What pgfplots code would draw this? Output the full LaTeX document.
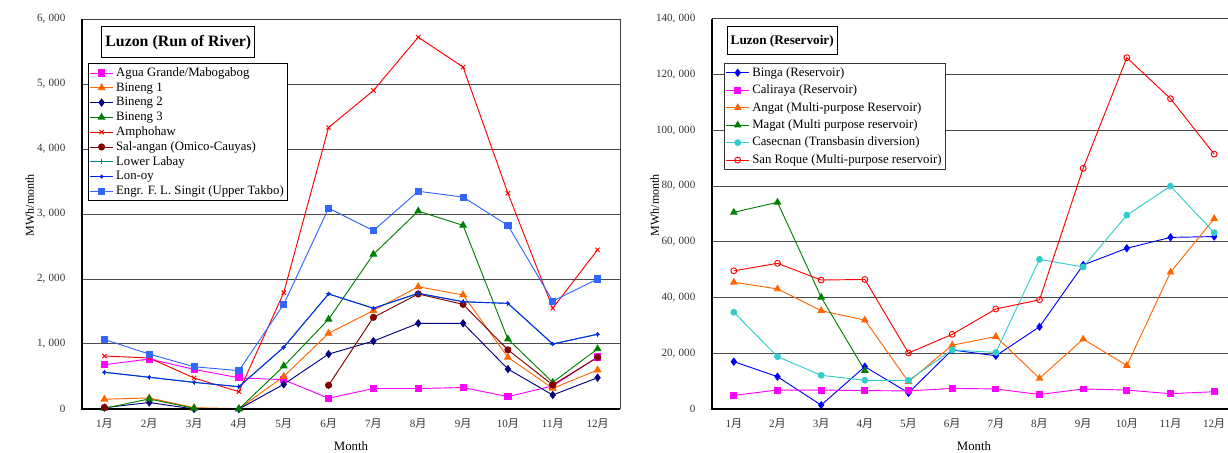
\documentclass[border=0pt]{standalone}
\usepackage{pgfplots}
\pgfplotsset{compat=1.18}
\usepackage{fontspec}
\setmainfont{Liberation Serif}
\newfontfamily\cjk{Noto Sans CJK JP}

\definecolor{cMag}{RGB}{255,0,255}
\definecolor{cOrg}{RGB}{255,102,0}
\definecolor{cNavy}{RGB}{0,0,128}
\definecolor{cGrn}{RGB}{0,128,0}
\definecolor{cRed}{RGB}{255,0,0}
\definecolor{cMaroon}{RGB}{128,0,0}
\definecolor{cTeal}{RGB}{0,128,128}
\definecolor{cLonoy}{RGB}{0,40,240}
\definecolor{cSky}{RGB}{51,102,255}
\definecolor{cBlue}{RGB}{0,0,255}
\definecolor{cTurq}{RGB}{51,204,204}

\newcommand{\mon}[1]{#1{\cjk 月}}
\newcommand{\thou}[2]{#1,\hspace{0.3em}#2}

\pgfplotsset{
  monthly/.style={
    scale only axis,
    height=292.5pt,
    xmin=0.5, xmax=12.5,
    xtick={1,...,12},
    xticklabels={\mon{1},\mon{2},\mon{3},\mon{4},\mon{5},\mon{6},\mon{7},\mon{8},\mon{9},\mon{10},\mon{11},\mon{12}},
    minor xtick={1.5,2.5,...,11.5},
    xtick pos=bottom, ytick pos=left,
    xtick align=inside,
    x tick style={draw=none},
    minor x tick style={black, line width=0.75pt},
    minor tick length=3.5pt,
    y tick style={draw=none},
    scaled y ticks=false,
    ymajorgrids,
    major grid style={black!70, line width=0.75pt},
    axis line style={black!75, line width=0.75pt},
    tick label style={font=\fontsize{8.3}{9}\selectfont, text=black!80},
    xticklabel style={yshift=-4pt},
    yticklabel style={xshift=-9pt},
    xlabel={Month},
    xlabel style={at={(axis description cs:0.5,-0.095)}, anchor=center, font=\fontsize{9.6}{11}\selectfont},
    ylabel style={font=\fontsize{9}{10}\selectfont, anchor=center},
    clip=false,
    unbounded coords=jump,
    legend cell align=left,
    every axis plot/.append style={line width=0.7pt},
  }
}

\begin{document}
\begin{tikzpicture}
\useasboundingbox (0pt,0pt) rectangle (921pt,339.75pt);
\clip (0pt,0pt) rectangle (921pt,339.75pt);

% ---------------- Run of river plants ----------------
\begin{axis}[monthly,
  at={(61.5pt,33pt)}, anchor=south west,
  width=403.5pt,
  ymin=0, ymax=6000,
  ytick={0,1000,...,6000},
  yticklabels={0,\thou{1}{000},\thou{2}{000},\thou{3}{000},\thou{4}{000},\thou{5}{000},\thou{6}{000}},
  ylabel={MWh/month},
  ylabel style={at={(axis description cs:-0.097,0.523)}},
  legend style={at={(0.011,0.887)}, anchor=north west,
    draw=black, line width=0.75pt, fill=white,
    font=\fontsize{9.6}{11}\selectfont,
    inner xsep=1pt, inner ysep=1.5pt, row sep=0pt,
    nodes={inner ysep=0.5pt, text height=7.6pt, text depth=2.5pt}},
]
\addplot[color=cMag, mark=square*, mark size=2.3pt] coordinates {
 (1,680) (2,770) (3,610) (4,480) (5,450) (6,165) (7,315) (8,315) (9,330) (10,190) (11,355) (12,800)};
\addlegendentry{Agua Grande/Mabogabog}
\addplot[color=cOrg, mark=triangle*, mark size=2.8pt] coordinates {
 (1,150) (2,170) (3,20) (4,5) (5,500) (6,1165) (7,1515) (8,1880) (9,1755) (10,795) (11,318) (12,600)};
\addlegendentry{Bineng 1}
\addplot[color=cNavy, mark=diamond*, mark size=2.6pt] coordinates {
 (1,20) (2,100) (3,0) (4,0) (5,380) (6,845) (7,1045) (8,1318) (9,1318) (10,615) (11,215) (12,482)};
\addlegendentry{Bineng 2}
\addplot[color=cGrn, mark=triangle*, mark size=2.8pt] coordinates {
 (1,10) (2,155) (3,10) (4,0) (5,660) (6,1380) (7,2380) (8,3045) (9,2825) (10,1075) (11,410) (12,925)};
\addlegendentry{Bineng 3}
\addplot[color=cRed, mark=x, mark size=2.3pt] coordinates {
 (1,815) (2,785) (3,477) (4,266) (5,1790) (6,4330) (7,4900) (8,5720) (9,5260) (10,3320) (11,1550) (12,2450)};
\addlegendentry{Amphohaw}
\addplot[color=cMaroon, mark=*, mark size=2.3pt] coordinates {
 (1,25) (2,nan) (3,nan) (4,nan) (5,nan) (6,365) (7,1410) (8,1770) (9,1610) (10,910) (11,370) (12,795)};
\addlegendentry{Sal-angan (Omico-Cauyas)}
\addplot[color=cTeal, mark=+, mark size=1.8pt] coordinates {
 (1,565) (2,488) (3,410) (4,343) (5,950) (6,1770) (7,1550) (8,1780) (9,1650) (10,1625) (11,1000) (12,1150)};
\addlegendentry{Lower Labay}
\addplot[color=cLonoy, mark=*, mark size=1.1pt] coordinates {
 (1,565) (2,488) (3,410) (4,343) (5,950) (6,1770) (7,1550) (8,1780) (9,1650) (10,1625) (11,1000) (12,1150)};
\addlegendentry{Lon-oy}
\addplot[color=cSky, mark=square*, mark size=2.3pt] coordinates {
 (1,1070) (2,845) (3,650) (4,590) (5,1610) (6,3090) (7,2745) (8,3350) (9,3260) (10,2825) (11,1660) (12,2000)};
\addlegendentry{Engr. F. L. Singit (Upper Takbo)}
\draw[black, line width=1pt] (rel axis cs:0,1) -- (rel axis cs:0,0) -- (rel axis cs:1,0);
\node[draw=black, fill=white, line width=0.75pt, font=\bfseries\fontsize{11.9}{13}\selectfont,
  minimum width=114.75pt, minimum height=23.25pt, inner sep=0pt]
  at (rel axis cs:0.179,0.94) {Luzon (Run of River)};
\end{axis}

% ---------------- Reservoir plants ----------------
\begin{axis}[monthly,
  at={(534pt,33pt)}, anchor=south west,
  width=393pt,
  ymin=0, ymax=140000,
  ytick={0,20000,...,140000},
  yticklabels={0,\thou{20}{000},\thou{40}{000},\thou{60}{000},\thou{80}{000},\thou{100}{000},\thou{120}{000},\thou{140}{000}},
  ylabel={MWh/month},
  ylabel style={at={(axis description cs:-0.109,0.523)}},
  legend style={at={(0.023,0.887)}, anchor=north west,
    draw=black!80, line width=0.75pt, fill=white,
    font=\fontsize{9.6}{11}\selectfont,
    inner xsep=1pt, inner ysep=1.5pt, row sep=2.3pt,
    nodes={inner ysep=0.5pt, text height=7.4pt, text depth=2.4pt}},
]
\addplot[color=cBlue, mark=diamond*, mark size=2.6pt] coordinates {
 (1,17000) (2,11600) (3,1400) (4,15200) (5,5800) (6,21200) (7,19100) (8,29500) (9,51700) (10,57700) (11,61600) (12,61900)};
\addlegendentry{Binga (Reservoir)}
\addplot[color=cMag, mark=square*, mark size=2.2pt] coordinates {
 (1,4900) (2,6800) (3,6800) (4,6600) (5,6500) (6,7400) (7,7200) (8,5200) (9,7200) (10,6800) (11,5500) (12,6200)};
\addlegendentry{Caliraya (Reservoir)}
\addplot[color=cOrg, mark=triangle*, mark size=2.7pt] coordinates {
 (1,45500) (2,43100) (3,35300) (4,31900) (5,9800) (6,22900) (7,26000) (8,11000) (9,25100) (10,15600) (11,49100) (12,68300)};
\addlegendentry{Angat (Multi-purpose Reservoir)}
\addplot[color=cGrn, mark=triangle*, mark size=2.7pt] coordinates {
 (1,70600) (2,74200) (3,40100) (4,13800)};
\addlegendentry{Magat (Multi purpose reservoir)}
\addplot[color=cTurq, mark=*, mark size=2.2pt] coordinates {
 (1,34700) (2,18800) (3,12100) (4,10300) (5,10300) (6,21200) (7,20300) (8,53700) (9,51000) (10,69600) (11,80000) (12,63300)};
\addlegendentry{Casecnan (Transbasin diversion)}
\addplot[color=cRed, mark=o, mark options={fill=white}, mark size=2.2pt] coordinates {
 (1,49600) (2,52300) (3,46300) (4,46500) (5,20100) (6,26800) (7,35900) (8,39200) (9,86400) (10,126100) (11,111400) (12,91500)};
\addlegendentry{San Roque (Multi-purpose reservoir)}
\draw[black, line width=1pt] (rel axis cs:0,1) -- (rel axis cs:0,0) -- (rel axis cs:1,0);
\node[draw=black, fill=white, line width=0.75pt, font=\bfseries\fontsize{9.9}{11}\selectfont,
  minimum width=82.5pt, minimum height=21pt, inner sep=0pt]
  at (rel axis cs:0.134,0.944) {Luzon (Reservoir)};
\end{axis}
\end{tikzpicture}
\end{document}
